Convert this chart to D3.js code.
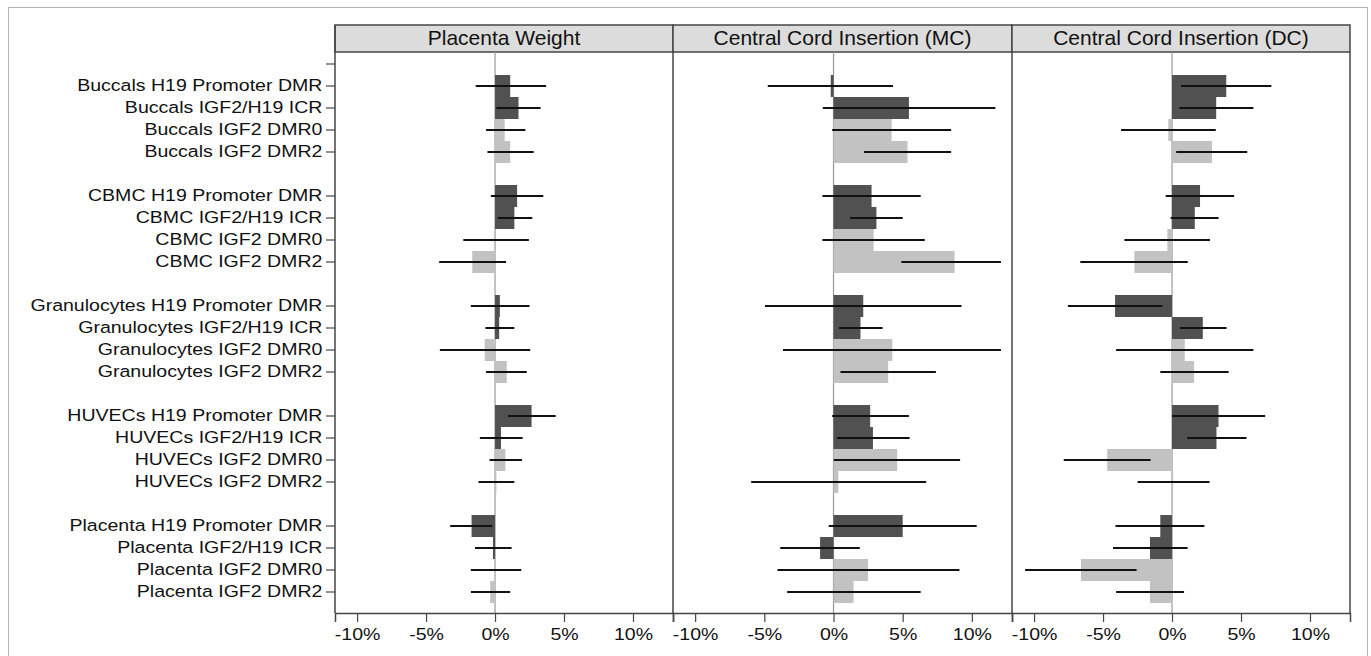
<!DOCTYPE html>
<html>
<head>
<meta charset="utf-8">
<script src="https://cdn.jsdelivr.net/npm/d3@7"></script>
<style>
  body { margin: 0; background: #fff; }
  text { font-family: "Liberation Sans", Arial, sans-serif; }
</style>
</head>
<body>
<div class="forest-plot"></div>
<script>
// tissues x regions give the 20 rows (grouped, with a blank slot before each group)
const tissues = ['Buccals', 'CBMC', 'Granulocytes', 'HUVECs', 'Placenta'];
const regions = ['H19 Promoter DMR', 'IGF2/H19 ICR', 'IGF2 DMR0', 'IGF2 DMR2'];
const panels = ['Placenta Weight', 'Central Cord Insertion (MC)', 'Central Cord Insertion (DC)'];
const xTicks = [-10, -5, 0, 5, 10];

// percent change estimates and 95% CI, one value per row (tissue order, then region order)
const weightEst = [1.1, 1.7, 0.7, 1.1,  1.6, 1.4, 0.02, -1.65,  0.35, 0.3, -0.75, 0.85,  2.65, 0.43, 0.75, 0.1,  -1.7, -0.15, 0.05, -0.35];
const weightLo  = [-1.4, 0.1, -0.65, -0.55,  -0.3, 0.2, -2.3, -4.05,  -1.75, -0.7, -4.0, -0.65,  0.95, -1.1, -0.4, -1.2,  -3.25, -1.45, -1.75, -1.75];
const weightHi  = [3.7, 3.3, 2.2, 2.8,  3.5, 2.7, 2.45, 0.8,  2.5, 1.4, 2.55, 2.3,  4.4, 2.0, 1.95, 1.4,  -0.2, 1.2, 1.9, 1.1];

const mcEst = [-0.2, 5.45, 4.2, 5.35,  2.75, 3.1, 2.9, 8.75,  2.15, 1.95, 4.25, 3.95,  2.65, 2.85, 4.6, 0.35,  5.0, -0.97, 2.5, 1.45];
const mcLo  = [-4.75, -0.77, -0.1, 2.2,  -0.8, 1.2, -0.8, 4.9,  -4.95, 0.4, -3.65, 0.5,  -0.1, 0.25, 0.02, -5.95,  -0.35, -3.85, -4.05, -3.35];
const mcHi  = [4.3, 11.7, 8.5, 8.5,  6.3, 5.0, 6.6, 12.1,  9.25, 3.55, 12.1, 7.4,  5.45, 5.5, 9.15, 6.7,  10.35, 1.9, 9.1, 6.3];

const dcEst = [3.93, 3.2, -0.27, 2.9,  2.03, 1.65, -0.34, -2.73,  -4.13, 2.23, 0.92, 1.6,  3.37, 3.22, -4.7, 0.08,  -0.85, -1.6, -6.6, -1.6];
const dcLo  = [0.65, 0.53, -3.7, 0.3,  -0.46, -0.1, -3.45, -6.65,  -7.55, 0.55, -4.05, -0.85,  0.0, 1.1, -7.85, -2.5,  -4.1, -4.28, -10.65, -4.05];
const dcHi  = [7.2, 5.9, 3.17, 5.45,  4.5, 3.37, 2.75, 1.14,  -0.7, 3.95, 5.9, 4.1,  6.75, 5.4, -1.55, 2.72,  2.35, 1.13, -2.57, 0.87];

const panelData = [
  {est: weightEst, lo: weightLo, hi: weightHi},
  {est: mcEst, lo: mcLo, hi: mcHi},
  {est: dcEst, lo: dcLo, hi: dcHi}
];

//build the slot list: a blank slot before every tissue group
let slots = [];
let rows = [];
tissues.forEach((t, ti) => {
  slots.push('gap' + ti);
  regions.forEach((r, ri) => {
    const label = t + ' ' + r;
    slots.push(label);
    rows.push({label: label, dark: ri < 2, i: ti * 4 + ri});
  });
});

const width = 1371;
const height = 656;
const svg = d3.select('.forest-plot')
  .append('svg')
  .attr('width', width)
  .attr('height', height);

// light outer frame
svg.append('rect')
  .attr('x', 8.5).attr('y', 7.5)
  .attr('width', 1359).attr('height', 670)
  .attr('fill', 'none')
  .attr('stroke', '#b5b5b5');

const plotTop = 52, headTop = 25, axisY = 613;
const panelEdges = [335, 673, 1012, 1350];
const stretch = 1.15; // text in the picture is a bit wider than the font

const y = d3.scaleBand()
  .domain(slots)
  .range([53, 603])
  .padding(0);

const ink = '#454545';

panels.forEach((name, p) => {
  const x0 = panelEdges[p], x1 = panelEdges[p + 1];
  const x = d3.scaleLinear().domain([-11.6, 12.9]).range([x0, x1]);
  const d = panelData[p];
  const g = svg.append('g');

  //header strip
  g.append('rect')
    .attr('x', x0).attr('y', headTop)
    .attr('width', x1 - x0).attr('height', plotTop - headTop)
    .attr('fill', '#dcdcdc')
    .attr('stroke', ink).attr('stroke-width', 1.5);
  g.append('text')
    .attr('x', (x0 + x1) / 2).attr('y', 45)
    .attr('text-anchor', 'middle')
    .attr('font-size', 21)
    .attr('fill', '#111')
    .text(name);

  //zero reference line
  g.append('line')
    .attr('x1', x(0)).attr('x2', x(0))
    .attr('y1', plotTop).attr('y2', axisY)
    .attr('stroke', '#999').attr('stroke-width', 1.2);

  //bars
  g.selectAll('rect.bar')
    .data(rows)
    .enter()
    .append('rect')
    .attr('class', 'bar')
    .attr('x', r => Math.min(x(0), x(d.est[r.i])))
    .attr('width', r => Math.abs(x(d.est[r.i]) - x(0)))
    .attr('y', r => y(r.label))
    .attr('height', y.bandwidth())
    .attr('fill', r => r.dark ? '#515151' : '#c2c2c2');

  //confidence intervals
  g.selectAll('line.ci')
    .data(rows)
    .enter()
    .append('line')
    .attr('class', 'ci')
    .attr('x1', r => x(d.lo[r.i]))
    .attr('x2', r => x(d.hi[r.i]))
    .attr('y1', r => y(r.label) + y.bandwidth() / 2)
    .attr('y2', r => y(r.label) + y.bandwidth() / 2)
    .attr('stroke', '#111').attr('stroke-width', 2);

  //panel divider / right edge
  g.append('line')
    .attr('x1', x1).attr('x2', x1)
    .attr('y1', plotTop).attr('y2', axisY)
    .attr('stroke', ink).attr('stroke-width', 1.5);

  //bottom axis
  const ax = g.append('g')
    .attr('transform', 'translate(0,' + axisY + ')')
    .call(d3.axisBottom(x).tickValues(xTicks).tickSize(9).tickPadding(6)
      .tickFormat(v => v + '%'));
  ax.select('.domain').attr('stroke', ink).attr('stroke-width', 1.5);
  ax.selectAll('.tick line').attr('stroke', ink).attr('stroke-width', 1.2);
  ax.selectAll('.tick text')
    .attr('font-size', 17)
    .attr('fill', '#111')
    .attr('transform', 'scale(' + stretch + ',1)');
});

// left axis with row labels (one extra tick at the top blank slot)
const yAx = svg.append('g')
  .attr('transform', 'translate(' + panelEdges[0] + ',0)')
  .call(d3.axisLeft(y)
    .tickValues(['gap0'].concat(rows.map(r => r.label)))
    .tickSize(9).tickPadding(2)
    .tickFormat(s => s.startsWith('gap') ? '' : s));
yAx.select('.domain').remove();
yAx.append('line')
  .attr('x1', 0).attr('x2', 0)
  .attr('y1', headTop).attr('y2', axisY)
  .attr('stroke', ink).attr('stroke-width', 1.5);
yAx.selectAll('.tick line').attr('stroke', ink).attr('stroke-width', 1.2);
yAx.selectAll('.tick text')
  .attr('font-size', 17)
  .attr('fill', '#111')
  .attr('transform', 'scale(' + stretch + ',1)');
</script>
</body>
</html>
